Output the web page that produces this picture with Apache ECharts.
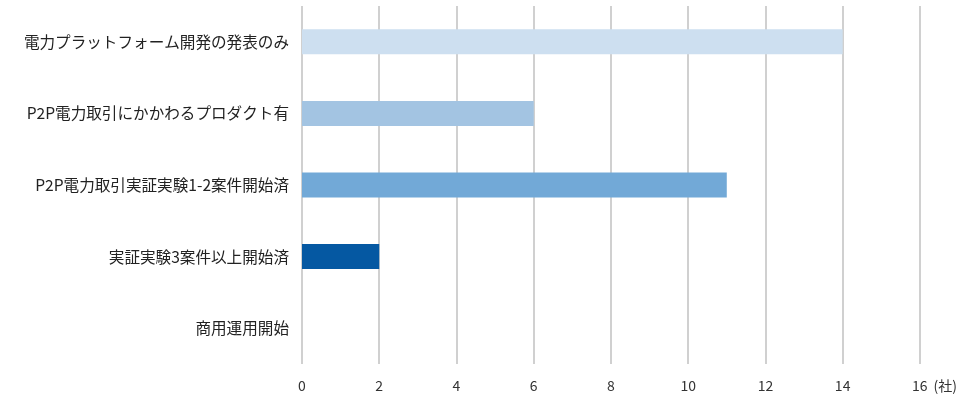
<!DOCTYPE html>
<html>
<head>
<meta charset="utf-8">
<script src="https://cdn.jsdelivr.net/npm/echarts@6/dist/echarts.min.js"></script>
<style>
  html, body { margin: 0; padding: 0; background: #fff; }
  #chart { width: 960px; height: 398px; }
</style>
</head>
<body>
<div id="chart"></div>
<script>
// categories, top to bottom
const categories = [
  "電力プラットフォーム開発の発表のみ",
  "P2P電力取引にかかわるプロダクト有",
  "P2P電力取引実証実験1-2案件開始済",
  "実証実験3案件以上開始済",
  "商用運用開始"
];
const companies = [14, 6, 11, 2, 0];
const barColors = ["#cddff0", "#a3c4e2", "#72a9d7", "#0558a2", "#0558a2"];

const chart = echarts.init(document.getElementById("chart"));

const option = {
  animation: false,
  textStyle: { fontFamily: "'Noto Sans CJK JP', sans-serif" },
  grid: { left: 302, right: 40, top: 6, bottom: 34 },
  xAxis: {
    type: "value",
    min: 0,
    max: 16,
    interval: 2,
    name: "(社)",
    nameLocation: "end",
    nameGap: 5,
    nameTextStyle: {
      color: "#333",
      fontSize: 14,
      verticalAlign: "top",
      padding: [15, 0, 0, 0]
    },
    axisLine: { show: false },
    axisTick: { show: false },
    axisLabel: { color: "#333", fontSize: 14, margin: 15 },
    splitLine: { lineStyle: { color: "#d0d0d0", width: 2 } }
  },
  yAxis: {
    type: "category",
    inverse: true,
    data: categories,
    axisLine: { show: false },
    axisTick: { show: false },
    axisLabel: { color: "#222", fontSize: 15.6, margin: 13 }
  },
  series: [
    {
      type: "bar",
      barWidth: 25,
      data: companies.map((v, i) => ({ value: v, itemStyle: { color: barColors[i] } }))
    }
  ]
};

chart.setOption(option);
</script>
</body>
</html>
